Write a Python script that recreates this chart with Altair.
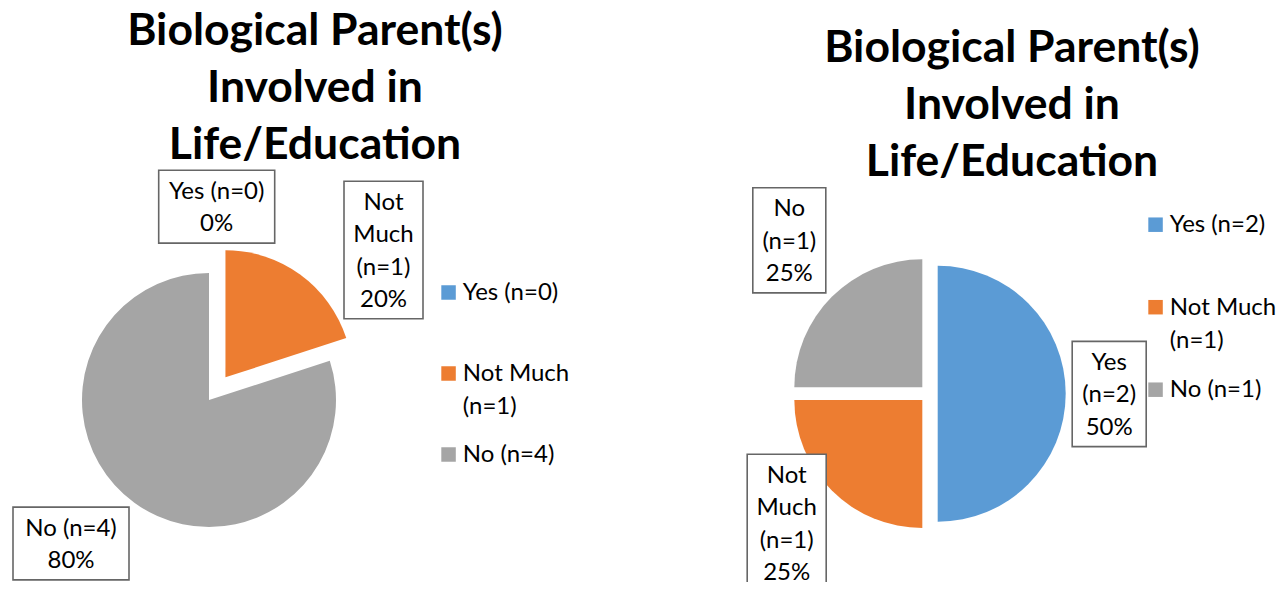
import math
import textwrap
import altair as alt
import pandas as pd

# ---------------- data ----------------
SLOTS = ["Yes", "Not Much", "No"]
LEFT_NAMES = ["Yes (n=0)", "Not Much (n=1)", "\u00a0No (n=4)"]
LEFT_VALUES = [0, 1, 4]
RIGHT_NAMES = ["Yes (n=2)", "Not Much (n=1)", "No (n=1)"]
RIGHT_VALUES = [2, 1, 1]
TITLE_LINES = ["Biological Parent(s)", "Involved in", "Life/Education"]
COLORS = ["#5B9BD5", "#ED7D31", "#A5A5A5"]

# ---------------- layout / style (page pixel coordinates) ----------------
FONT = "Lato"
LABEL_SIZE = 24
LABEL_LH = 32.4
LEGEND_LH = 33
TITLE_SIZE = 44.5
TITLE_LH = 56.8
BOX_STROKE = "#666666"

LAYOUT = {
    "left": dict(
        names=LEFT_NAMES, values=LEFT_VALUES,
        cx=209, cy=400, r=127, explode=[0, 28, 0],
        title=(315, 45), legend=(441.3, 292.5, 81),
        labels=[dict(dx=7.7, dy=-193.3, w=116, wrap=10),
                dict(dx=174.5, dy=-150, w=79, wrap=5),
                dict(dx=-138, dy=143.5, w=116, wrap=10)],
    ),
    "right": dict(
        names=RIGHT_NAMES, values=RIGHT_VALUES,
        cx=928.7, cy=393.7, r=128, explode=[9, 9, 9],
        title=(1012, 62), legend=(1148.3, 224.7, 82.5),
        labels=[dict(dx=180.5, dy=0.3, w=74, wrap=5),
                dict(dx=-142, dy=129.3, w=79, wrap=5),
                dict(dx=-139.4, dy=-153.4, w=73, wrap=5)],
    ),
}

slice_rows, label_rows, legend_rows, title_rows = [], [], [], []
for pie, L in LAYOUT.items():
    total = sum(L["values"])
    for i, (slot, name, v) in enumerate(zip(SLOTS, L["names"], L["values"])):
        slice_rows.append(dict(pie=pie, slot=slot, idx=i, value=v,
                               cx=L["cx"], cy=L["cy"], r=L["r"], explode=L["explode"][i]))
        lab = L["labels"][i]
        lines = textwrap.wrap(name, lab["wrap"]) + [f"{round(100 * v / total)}%"]
        n = len(lines)
        bh = LABEL_LH * n + 8
        bxc, byc = L["cx"] + lab["dx"], L["cy"] + lab["dy"]
        label_rows.append(dict(pie=pie, slot=slot, text="\n".join(lines),
                               bx0=bxc - lab["w"] / 2, bx1=bxc + lab["w"] / 2,
                               by0=byc - bh / 2, by1=byc + bh / 2,
                               tx=bxc, ty=byc - (n - 1) * LABEL_LH / 2 + 8.5))
        lx, ly0, step = L["legend"]
        legend_rows.append(dict(pie=pie, slot=slot, text="\n".join(textwrap.wrap(name, 10)),
                                sx=lx + 7.25, sy=ly0 + i * step,
                                tx=lx + 21.5, ty=ly0 + i * step + 7.6))
    title_rows.append(dict(pie=pie, text="\n".join(TITLE_LINES), x=L["title"][0], y=L["title"][1]))

slices_df = pd.DataFrame(slice_rows)
labels_df = pd.DataFrame(label_rows)
legend_df = pd.DataFrame(legend_rows)
title_df = pd.DataFrame(title_rows)

XS = alt.Scale(domain=[8, 1280], nice=False, zero=False)
YS = alt.Scale(domain=[8, 582], nice=False, zero=False, reverse=True)
CS = alt.Scale(domain=SLOTS, range=COLORS)

arcs = (
    alt.Chart(slices_df)
    .transform_joinaggregate(total="sum(value)", groupby=["pie"])
    .transform_window(cum="sum(value)", groupby=["pie"], sort=[alt.SortField("idx")], frame=[None, 0])
    .transform_calculate(f0="(datum.cum - datum.value) / datum.total", f1="datum.cum / datum.total")
    .transform_calculate(mid="PI * (datum.f0 + datum.f1)")
    .transform_calculate(ex="datum.cx + datum.explode * sin(datum.mid)",
                         ey="datum.cy - datum.explode * cos(datum.mid)")
    .mark_arc(strokeWidth=0)
    .encode(
        x=alt.X("ex:Q", scale=XS, axis=None),
        y=alt.Y("ey:Q", scale=YS, axis=None),
        theta=alt.Theta("f0:Q", scale=alt.Scale(domain=[0, 1], range=[0, 2 * math.pi]), stack=None),
        theta2="f1:Q",
        radius=alt.Radius("r:Q", scale=None),
        color=alt.Color("slot:N", scale=CS, legend=None),
    )
)

boxes = alt.Chart(labels_df).mark_rect(fill="white", stroke=BOX_STROKE, strokeWidth=1.6).encode(
    x=alt.X("bx0:Q", scale=XS, axis=None), x2="bx1:Q",
    y=alt.Y("by0:Q", scale=YS, axis=None), y2="by1:Q",
)

label_text = alt.Chart(labels_df).mark_text(
    align="center", baseline="alphabetic", font=FONT, fontSize=LABEL_SIZE,
    lineHeight=LABEL_LH, lineBreak="\n", color="black",
).encode(
    x=alt.X("tx:Q", scale=XS, axis=None), y=alt.Y("ty:Q", scale=YS, axis=None), text="text:N",
)

legend_sq = alt.Chart(legend_df).mark_square(size=210, opacity=1, filled=True, strokeWidth=0).encode(
    x=alt.X("sx:Q", scale=XS, axis=None), y=alt.Y("sy:Q", scale=YS, axis=None),
    color=alt.Color("slot:N", scale=CS, legend=None),
)

legend_text = alt.Chart(legend_df).mark_text(
    align="left", baseline="alphabetic", font=FONT, fontSize=LABEL_SIZE,
    lineHeight=LEGEND_LH, lineBreak="\n", color="black",
).encode(
    x=alt.X("tx:Q", scale=XS, axis=None), y=alt.Y("ty:Q", scale=YS, axis=None), text="text:N",
)

titles = alt.Chart(title_df).mark_text(
    align="center", baseline="alphabetic", font=FONT, fontSize=TITLE_SIZE, fontWeight="bold",
    lineHeight=TITLE_LH, lineBreak="\n", color="black",
).encode(
    x=alt.X("x:Q", scale=XS, axis=None), y=alt.Y("y:Q", scale=YS, axis=None), text="text:N",
)

chart = (
    alt.layer(arcs, boxes, label_text, legend_sq, legend_text, titles)
    .properties(width=1272, height=574, padding=0, autosize="none", background="white")
    .configure_view(stroke=None)
)

chart.save("out.html", embed_options={"renderer": "svg", "actions": False})
